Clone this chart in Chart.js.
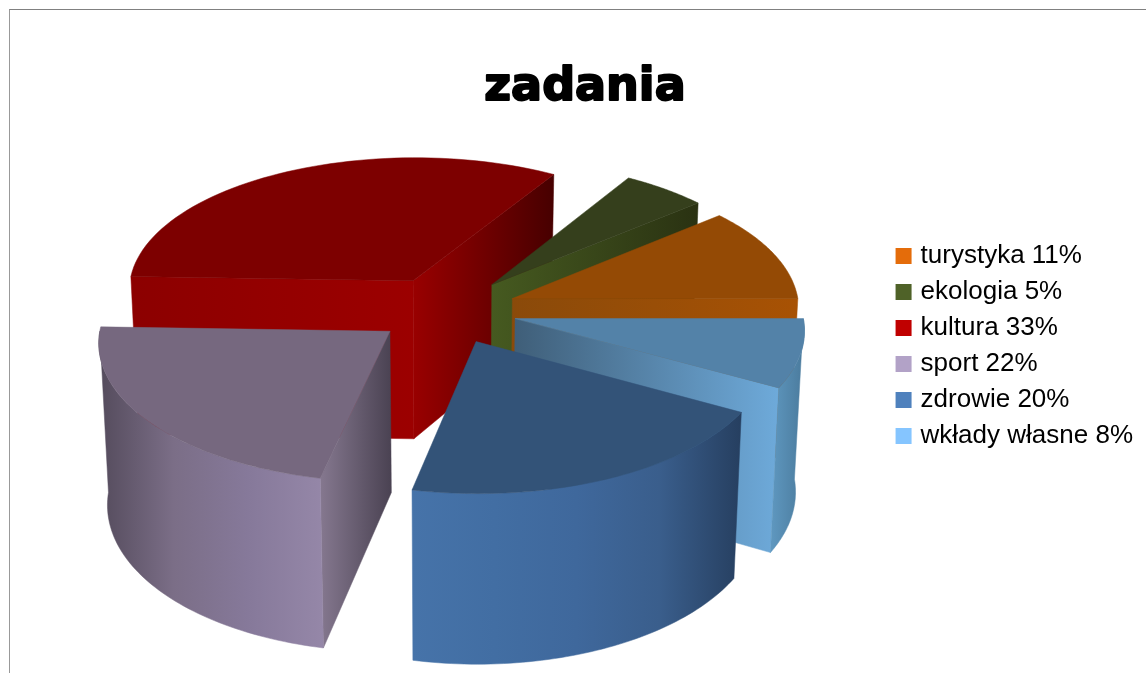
<!DOCTYPE html>
<html>
<head>
<meta charset="utf-8">
<title>zadania</title>
<style>
  html, body { margin: 0; height: 100%; background: #fff; overflow: hidden; }
  .frame {
    position: absolute; left: 9px; top: 9px;
    border-left: 1px solid #999; border-top: 1px solid #808080;
  }
  canvas { display: block; }
</style>
<script src="https://cdn.jsdelivr.net/npm/chart.js@4"></script>
</head>
<body>
<div class="frame"><canvas id="pieChart" width="1150" height="680"></canvas></div>
<script>
// =======================
//  DATA
// =======================
const chartTitle = "zadania";
const categories = ["turystyka", "ekologia", "kultura", "sport", "zdrowie", "wkłady własne"];
// the legend shows them rounded
const shares = [11.1, 5.2, 33.2, 22.1, 20.4, 8.0];
const legendColors = ["#e46c0a", "#4f6228", "#c00000", "#b2a2c7", "#4f81bd", "#85c5ff"];

// =======================
//  FACE COLOURS (same order as categories)
// =======================
const topColors = ["#944a05", "#353f1c", "#7d0000", "#76687f", "#335378", "#5382a8"];
const wallColors = [
  ["#a85204", "#a85204"],
  ["#465a20", "#2a3212"],
  ["#990000", "#990000"],
  ["#544b5c", "#7b6e87", "#86799a", "#9587a8"],
  ["#4673a9", "#426ea3", "#3f689c", "#3a5e8c", "#263f60"],
  ["#5f98c0", "#4a7a9c"]
];
const startCutColors = [
  ["#8a4a0a", "#a85204"],
  ["#465a20", "#2a3212"],
  ["#8c0000", "#9c0000"],
  ["#85788f", "#4a4252"],
  ["#3f6799", "#263f60"],
  ["#3f5e78", "#6eaada"]
];
const endCutColors = [
  ["#8a4a0a", "#a85204"],
  ["#465a20", "#2a3212"],
  ["#990000", "#470000"],
  ["#85788f", "#4a4252"],
  ["#3f6799", "#263f60"],
  ["#3f5e78", "#6eaada"]
];

// =======================
//  3D VIEW SETTINGS
// =======================
const pieRadius = 287;
const pieShiftX = -12;
const pieLift = 92.5;

function project(u, v, cx, cy) {
  const fx = v < 0 ? 1 + 0.000225 * v : 1 + 0.00025 * v;
  const fy = v < 0 ? 1 / (1 - 0.0003 * v) : 1 / (1 - 0.00022 * v);
  return { x: cx + u * fx, y: cy + 0.482 * v * fy, v };
}

function dropDown(p, cx) {
  return { x: cx + (p.x - cx) * 0.975, y: p.y + 160 + 0.03 * p.v };
}

function fillFace(ctx, points, colors) {
  const xs = points.map(p => p.x);
  const grad = ctx.createLinearGradient(Math.min(...xs), 0, Math.max(...xs), 0);
  colors.forEach((c, i) => grad.addColorStop(i / (colors.length - 1), c));
  ctx.beginPath();
  points.forEach((p, i) => i ? ctx.lineTo(p.x, p.y) : ctx.moveTo(p.x, p.y));
  ctx.closePath();
  ctx.fillStyle = grad;
  ctx.strokeStyle = grad;
  ctx.lineWidth = 0.5;
  ctx.fill();
  ctx.stroke();
}

// =======================
//  PIE 3D PLUGIN
// =======================
// the flat arcs are replaced by faces built from each arc element's angles
const pie3d = {
  id: "pie3d",
  beforeDatasetsDraw(chart) {
    const ctx = chart.ctx;
    const meta = chart.getDatasetMeta(0);
    const slices = meta.data.map((arc, i) => {
      const p = arc.getProps(["x", "y", "startAngle", "endAngle", "outerRadius"], true);
      return { ...p, offset: arc.options.offset, legendIndex: categories.length - 1 - i };
    });
    slices.sort((a, b) =>
      Math.sin((a.startAngle + a.endAngle) / 2) - Math.sin((b.startAngle + b.endAngle) / 2));

    slices.forEach(s => {
      const scale = pieRadius / s.outerRadius;
      const cx = s.x + pieShiftX;
      const cy = s.y - pieLift;
      const mid = (s.startAngle + s.endAngle) / 2;
      const ou = Math.cos(mid) * s.offset * scale;
      const ov = Math.sin(mid) * s.offset * scale;
      const rim = a => project(ou + Math.cos(a) * pieRadius, ov + Math.sin(a) * pieRadius, cx, cy);
      const apex = project(ou, ov, cx, cy);
      const steps = 60;
      const rimPoints = (from, to) => {
        const pts = [];
        for (let k = 0; k <= steps; k++) pts.push(rim(from + (to - from) * k / steps));
        return pts;
      };
      const li = s.legendIndex;

      // cut faces
      const cutFace = (a, colors) => {
        const e = rim(a);
        fillFace(ctx, [apex, e, dropDown(e, cx), dropDown(apex, cx)], colors);
      };
      if (Math.sin(s.startAngle - Math.PI / 2) > 0) cutFace(s.startAngle, startCutColors[li]);
      if (Math.sin(s.endAngle + Math.PI / 2) > 0) cutFace(s.endAngle, endCutColors[li]);

      // outer wall, only the part turned to the viewer
      const from = Math.max(s.startAngle, 0);
      const to = Math.min(s.endAngle, Math.PI);
      if (to > from) {
        const upper = rimPoints(from, to);
        const lower = upper.map(p => dropDown(p, cx)).reverse();
        fillFace(ctx, upper.concat(lower), wallColors[li]);
      }

      // top face
      ctx.beginPath();
      ctx.moveTo(apex.x, apex.y);
      rimPoints(s.startAngle, s.endAngle).forEach(p => ctx.lineTo(p.x, p.y));
      ctx.closePath();
      ctx.fillStyle = topColors[li];
      ctx.strokeStyle = topColors[li];
      ctx.lineWidth = 0.5;
      ctx.fill();
      ctx.stroke();
    });
    return false;
  },
  afterDraw(chart) {
    // the title in the reference is heavier than plain bold
    const t = chart.titleBlock;
    const ctx = chart.ctx;
    ctx.save();
    ctx.font = t.options.font.weight + " " + t.options.font.size + "px " + t.options.font.family;
    ctx.textAlign = "center";
    ctx.textBaseline = "middle";
    ctx.lineWidth = 2;
    ctx.lineJoin = "round";
    ctx.strokeStyle = "#000";
    ctx.strokeText(chartTitle, t.left + t.width / 2,
      t.top + t.options.padding.top + t.options.font.size * 0.6);
    ctx.restore();
  }
};

// =======================
//  CHART
// =======================
new Chart(document.getElementById("pieChart"), {
  type: "pie",
  data: {
    labels: categories.slice().reverse(),
    datasets: [{
      data: shares.slice().reverse(),
      backgroundColor: legendColors.slice().reverse(),
      borderWidth: 0,
      offset: 61.3
    }]
  },
  options: {
    responsive: false,
    animation: false,
    rotation: 90,
    layout: { padding: { bottom: 8, left: 17, right: 17 } },
    plugins: {
      tooltip: { enabled: false },
      title: {
        display: true,
        text: chartTitle,
        color: "#000",
        font: { family: "'DejaVu Sans'", size: 46, weight: "bold" },
        padding: { top: 50, bottom: 8 }
      },
      legend: {
        position: "right",
        labels: {
          color: "#000",
          font: { family: "'Liberation Sans'", size: 26 },
          boxWidth: 8,
          boxHeight: 8,
          padding: 10,
          generateLabels: () => categories.map((name, i) => ({
            text: name + " " + Math.round(shares[i]) + "%",
            fillStyle: legendColors[i],
            strokeStyle: legendColors[i],
            lineWidth: 8,
            hidden: false,
            index: i
          }))
        }
      }
    }
  },
  plugins: [pie3d]
});
</script>
</body>
</html>
